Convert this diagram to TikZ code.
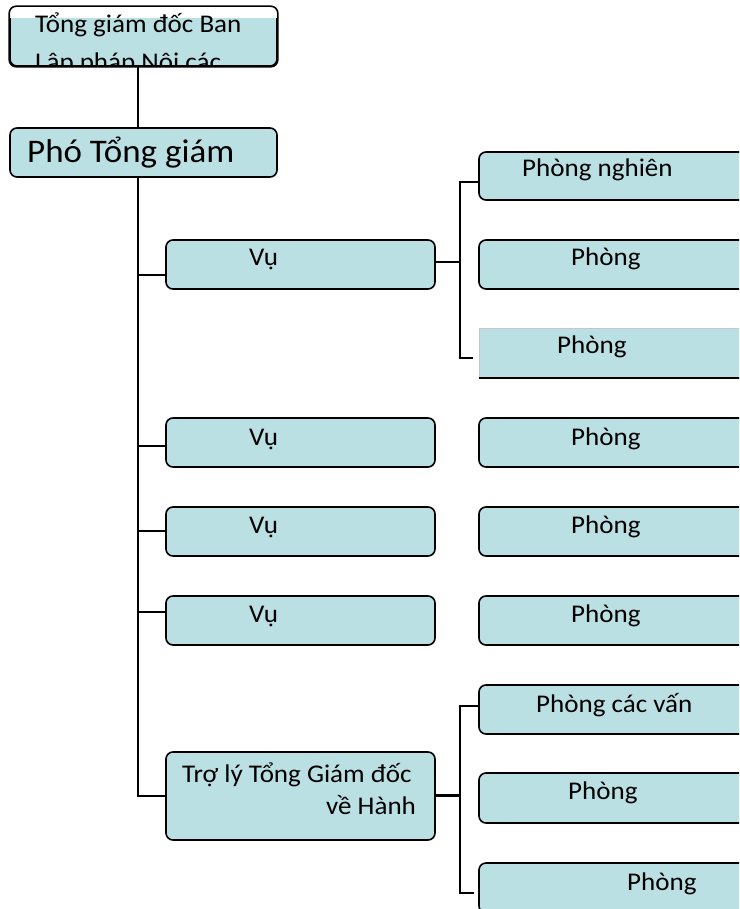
\documentclass[tikz,border=0pt]{standalone}
\usepackage{fontspec}
\setmainfont{Carlito}[FakeStretch=1.06]
\definecolor{boxblue}{HTML}{BBE0E3}
\begin{document}
\begin{tikzpicture}[x=1pt,y=-1pt,
  box/.style={draw=black, line width=1.6pt, fill=boxblue, rounded corners=7pt,
    inner sep=0pt, minimum width=269pt, minimum height=49pt},
  conn/.style={draw=black, line width=2pt},
  lbl/.style={inner sep=0pt, anchor=base west, font=\fontsize{25.5}{31}\selectfont},
  biglbl/.style={inner sep=0pt, anchor=base west, font=\fontsize{33}{40}\selectfont},
]
\useasboundingbox (0,0) rectangle (739,909);
\clip (0,0) rectangle (739,909);

% ---- top of the chart ----
\node[box, minimum width=267pt, minimum height=59pt] (b0) at (143.5,36.5) {};
\begin{scope}
  \clip[rounded corners=7pt] (b0.north west) rectangle (b0.south east);
  \fill[white] (b0.north west) rectangle (b0.east |- 0,18);
  \node[lbl] (b0a) at (35,33) {Tổng giám đốc Ban};
  \node[lbl] (b0b) at (35,71) {Lập pháp Nội các};
\end{scope}
\draw[line width=1.6pt, rounded corners=7pt] (b0.north west) rectangle (b0.south east);

\node[box, minimum width=267pt] (b1) at (143.5,152.5) {};
\node[biglbl] (b1a) at (27,163) {Phó Tổng giám};

% ---- departments ----
\node[box] (v1) at (300.5,264.5) {};
\node[box] (v2) at (300.5,442.5) {};
\node[box] (v3) at (300.5,531.5) {};
\node[box] (v4) at (300.5,620.5) {};
\node[box, minimum height=88pt] (tl) at (300.5,796) {};
\node[lbl] (v1a) at (249,265) {Vụ};
\node[lbl] (v2a) at (249,445) {Vụ};
\node[lbl] (v3a) at (249,533) {Vụ};
\node[lbl] (v4a) at (249,622) {Vụ};
\node[lbl] (tla) at (182,782) {Trợ lý Tổng Giám đốc};
\node[lbl] (tlb) at (326,814) {về Hành};

% ---- offices ----
\node[box, minimum height=48pt] (r1) at (613.5,176) {};
\node[box] (r2) at (613.5,264.5) {};
\node[fill=boxblue, draw=gray!45, line width=0.6pt, inner sep=0pt,
  minimum width=269pt, minimum height=50pt] (r3) at (613.5,353) {};
\draw[line width=1.8pt] (r3.south west) -- (r3.south east);
\node[box] (p2) at (613.5,442.5) {};
\node[box] (p3) at (613.5,531.5) {};
\node[box] (p4) at (613.5,620.5) {};
\node[box] (s1) at (613.5,709.5) {};
\node[box, minimum height=50pt] (s2) at (613.5,798) {};
\node[box, minimum height=50pt] (s3) at (613.5,888) {};

\node[lbl] (r1a) at (522,177) {Phòng nghiên};
\node[lbl] (r2a) at (571,265) {Phòng};
\node[lbl] (r3a) at (557,353) {Phòng};
\node[lbl] (p2a) at (571,445) {Phòng};
\node[lbl] (p3a) at (571,533) {Phòng};
\node[lbl] (p4a) at (571,622) {Phòng};
\node[lbl] (s1a) at (536,712) {Phòng các vấn};
\node[lbl] (s2a) at (568,799) {Phòng};
\node[lbl] (s3a) at (627,890) {Phòng};

% ---- connectors ----
\coordinate (tk) at (138,0);
\draw[conn] (b0.south -| tk) -- (b1.north -| tk);
\draw[conn] (b1.south -| tk) |- (tl.west);
\coordinate (a1) at (138,275);
\coordinate (a2) at (138,446);
\coordinate (a3) at (138,531);
\coordinate (a4) at (138,612);
\draw[conn] (a1) -- (a1 -| v1.west);
\draw[conn] (a2) -- (a2 -| v2.west);
\draw[conn] (a3) -- (a3 -| v3.west);
\draw[conn] (a4) -- (a4 -| v4.west);

\coordinate (k1) at (460,262);
\coordinate (q1) at (460,182);
\coordinate (q3) at (460,358);
\draw[conn] (k1 -| v1.east) -- (k1);
\draw[conn] (q1 -| r1.west) -- (q1) -- (q3) -- ++(13,0) coordinate (q3e);

\coordinate (k2) at (460,795);
\coordinate (m1) at (460,706);
\coordinate (m3) at (460,893);
\draw[conn, line width=3pt] (k2 -| tl.east) -- (k2);
\draw[conn] (m1 -| s1.west) -- (m1) -- (m3) -- ++(14,0) coordinate (m3e);
\end{tikzpicture}
\end{document}
